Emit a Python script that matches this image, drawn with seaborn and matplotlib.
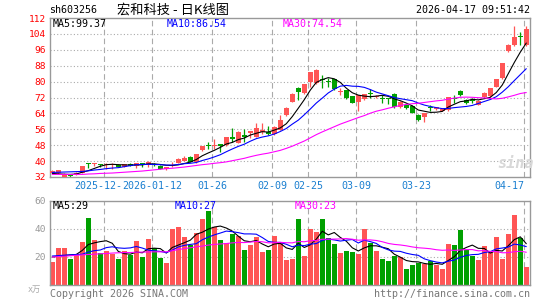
import matplotlib
matplotlib.use("Agg")
import numpy as np
import matplotlib.pyplot as plt
import seaborn as sns

sns.set_theme(style="white")
plt.rcParams['font.family'] = ['DejaVu Sans Mono', 'Noto Sans CJK SC']

W, H = 545, 300

# --- values (80 trading days) ---
tick_pos = [9, 17, 27, 37, 43, 51, 61, 79]
tick_labels = ['2025-12-29', '2026-01-12', '01-26', '02-09', '02-25', '03-09', '03-23', '04-17']

opens = [34.2, 33.8, 32.2, 33.3, 33.2, 34.2, 38.7, 38.5, 38.2, 38.2,
         38.1, 38.2, 37.2, 38.7, 37.7, 38.5, 38.0, 38.4, 37.7, 35.9,
         37.5, 39.2, 40.1, 42.2, 39.4, 45.6, 48.0, 47.7, 48.4, 48.1,
         52.0, 49.3, 53.1, 54.3, 52.3, 54.8, 54.8, 53.6, 55.7, 63.2,
         69.9, 77.0, 74.1, 80.0, 79.5, 81.2, 80.0, 81.2, 75.0, 75.8,
         72.8, 69.9, 71.1, 74.5, 72.3, 71.8, 71.5, 73.8, 67.1, 68.2,
         67.7, 63.2, 62.4, 67.2, 66.1, 65.4, 65.7, 71.4, 75.3, 70.8,
         70.5, 68.2, 72.1, 72.8, 77.5, 81.7, 95.6, 98.5, 103.0, 98.5]
highs = [35.3, 35.6, 33.8, 33.5, 34.4, 37.6, 39.2, 39.2, 38.7, 38.9,
         39.0, 38.4, 38.6, 38.9, 39.0, 39.2, 39.8, 39.0, 38.0, 37.0,
         39.7, 41.5, 42.5, 42.5, 43.8, 47.8, 49.8, 50.9, 48.6, 52.3,
         56.5, 55.0, 56.0, 55.3, 59.0, 59.0, 57.7, 57.5, 63.2, 67.0,
         74.1, 77.5, 79.0, 84.9, 86.2, 83.3, 81.7, 81.5, 76.6, 76.0,
         73.0, 73.5, 74.0, 76.1, 73.5, 73.3, 72.0, 74.3, 70.2, 68.5,
         68.0, 63.5, 64.4, 68.2, 67.4, 66.4, 72.4, 73.3, 75.6, 71.1,
         71.6, 70.6, 74.8, 77.0, 81.5, 89.5, 98.8, 108.0, 105.2, 108.0]
lows = [33.9, 33.6, 32.0, 32.2, 33.0, 34.0, 36.4, 37.7, 36.9, 35.9,
        36.0, 37.0, 37.0, 37.5, 36.4, 36.9, 37.0, 37.7, 36.0, 35.7,
        37.0, 39.0, 40.0, 39.5, 39.2, 45.3, 46.1, 45.9, 44.8, 47.8,
        49.8, 49.0, 49.8, 51.5, 52.0, 53.6, 53.1, 53.3, 55.5, 62.9,
        69.5, 70.8, 73.8, 77.5, 79.0, 77.0, 77.5, 75.8, 73.3, 71.3,
        69.0, 65.0, 70.8, 71.9, 72.0, 69.1, 68.6, 66.8, 66.5, 66.2,
        64.1, 60.4, 59.9, 65.4, 65.8, 65.0, 65.4, 69.1, 73.0, 68.6,
        69.1, 68.0, 71.8, 72.5, 77.2, 81.4, 95.0, 98.0, 98.5, 98.0]
closes = [35.0, 35.5, 33.3, 32.5, 34.2, 37.5, 38.4, 38.7, 38.0, 38.4,
          38.5, 37.2, 38.4, 37.7, 38.9, 38.3, 39.7, 38.2, 36.2, 36.9,
          38.0, 41.1, 41.7, 39.7, 43.6, 47.6, 47.7, 48.2, 47.6, 52.1,
          51.3, 54.8, 52.3, 55.0, 56.5, 55.5, 53.6, 57.3, 60.7, 66.7,
          73.8, 74.6, 78.8, 84.7, 85.9, 80.8, 79.6, 76.1, 75.5, 71.6,
          69.4, 73.3, 73.8, 74.0, 72.8, 71.4, 71.0, 67.1, 69.9, 66.6,
          64.4, 60.7, 64.1, 66.8, 67.1, 66.1, 72.1, 71.0, 73.3, 69.1,
          70.1, 70.3, 74.4, 76.6, 81.2, 89.2, 98.5, 102.6, 102.6, 106.3]

ma5 = [33.8, 33.6, 33.4, 33.3, 33.5, 34.4, 35.2, 36.3, 37.4, 38.2,
       38.4, 38.2, 38.1, 38.0, 38.1, 38.1, 38.6, 38.6, 38.3, 37.9,
       37.8, 38.1, 38.8, 39.5, 40.8, 42.7, 44.1, 45.4, 46.9, 48.6,
       49.4, 50.8, 51.6, 53.1, 54.0, 54.8, 54.6, 55.6, 56.7, 58.8,
       62.4, 66.6, 70.9, 75.7, 79.6, 81.0, 82.0, 81.4, 79.6, 76.7,
       74.4, 73.2, 72.7, 72.4, 72.7, 73.1, 72.6, 71.3, 70.4, 69.2,
       67.8, 65.7, 65.1, 64.5, 64.6, 65.0, 67.2, 68.6, 69.9, 70.3,
       71.1, 70.8, 71.4, 72.1, 74.5, 78.3, 84.0, 89.6, 94.8, 99.4]
ma10 = [34.3, 34.4, 34.5, 34.6, 34.7, 34.8, 35.1, 35.5, 35.8, 36.2,
        36.5, 36.7, 37.2, 37.7, 38.2, 38.3, 38.4, 38.3, 38.2, 38.0,
        38.0, 38.3, 38.7, 38.9, 39.3, 40.3, 41.1, 42.1, 43.2, 44.7,
        46.1, 47.4, 48.5, 50.0, 51.3, 52.1, 52.7, 53.6, 54.9, 56.4,
        58.6, 60.6, 63.3, 66.2, 69.2, 71.7, 74.3, 76.2, 77.7, 78.1,
        77.7, 77.6, 77.1, 76.0, 74.7, 73.8, 72.9, 72.0, 71.4, 70.9,
        70.4, 69.2, 68.2, 67.5, 66.9, 66.4, 66.5, 66.9, 67.2, 67.5,
        68.0, 69.0, 70.0, 71.0, 72.4, 74.7, 77.4, 80.5, 83.5, 86.5]
ma30 = [33.3, 33.3, 33.3, 33.3, 33.3, 33.3, 33.5, 33.6, 33.8, 33.9,
        34.0, 34.2, 34.4, 34.6, 34.8, 35.0, 35.3, 35.6, 35.9, 36.2,
        36.4, 36.7, 37.0, 37.4, 37.8, 38.2, 38.5, 38.9, 39.2, 39.6,
        40.2, 40.8, 41.4, 42.2, 42.9, 43.5, 44.0, 44.7, 45.4, 46.4,
        47.5, 48.8, 50.1, 51.7, 53.3, 54.7, 56.0, 57.3, 58.6, 59.7,
        60.8, 61.9, 62.9, 64.1, 65.1, 65.8, 66.6, 67.3, 68.0, 68.5,
        68.9, 69.1, 69.5, 69.9, 70.3, 70.6, 71.2, 71.7, 72.1, 72.2,
        72.1, 71.9, 71.8, 71.5, 71.3, 71.6, 72.3, 73.1, 74.0, 74.5]

volume = [16.3, 26.6, 26.6, 18.3, 21.2, 31.0, 47.6, 32.2, 22.9, 24.1,
          22.4, 18.3, 24.1, 21.2, 31.5, 19.8, 32.9, 26.3, 19.3, 15.6,
          39.8, 41.7, 34.4, 28.5, 36.8, 47.3, 52.7, 41.5, 32.2, 29.8,
          36.3, 34.9, 24.9, 28.8, 34.1, 23.7, 24.9, 35.1, 31.0, 17.6,
          18.3, 46.8, 20.5, 40.2, 37.6, 46.8, 33.7, 29.3, 22.7, 24.1,
          23.4, 22.0, 40.2, 30.2, 24.1, 18.3, 16.8, 20.5, 20.0, 11.7,
          14.6, 15.6, 14.9, 17.1, 14.6, 11.7, 29.3, 28.5, 39.5, 24.9,
          20.5, 17.6, 27.8, 23.4, 34.4, 18.3, 36.1, 49.8, 33.4, 13.2]
vol_ma5 = [20.0, 20.5, 21.0, 21.5, 21.8, 24.7, 28.9, 30.1, 31.0, 31.6,
           29.8, 24.0, 22.4, 22.0, 23.5, 23.0, 25.9, 26.3, 26.0, 22.8,
           26.8, 28.5, 30.2, 32.0, 36.2, 37.7, 39.9, 41.4, 42.1, 40.7,
           38.5, 34.9, 31.6, 30.9, 31.8, 29.3, 27.3, 29.3, 29.8, 26.5,
           25.4, 29.8, 26.8, 28.7, 32.7, 38.4, 35.8, 37.5, 34.0, 31.3,
           26.6, 24.3, 26.5, 28.0, 28.0, 27.0, 25.9, 22.0, 19.9, 17.5,
           16.7, 16.5, 15.4, 14.8, 15.4, 14.8, 17.5, 20.2, 24.7, 26.8,
           28.5, 26.2, 26.1, 22.8, 24.7, 24.3, 28.0, 32.4, 34.4, 29.5]
vol_ma10 = [20.7, 21.0, 21.3, 21.5, 21.8, 22.0, 23.5, 24.5, 25.0, 26.7,
            27.3, 26.5, 26.2, 26.5, 27.5, 26.4, 24.9, 24.4, 24.0, 23.1,
            24.9, 27.2, 28.3, 29.0, 29.5, 32.3, 34.2, 35.8, 37.1, 38.5,
            38.1, 37.4, 36.5, 36.5, 36.3, 33.9, 31.1, 30.5, 30.4, 29.1,
            27.3, 28.5, 28.1, 29.2, 29.6, 31.9, 32.8, 32.2, 31.4, 32.0,
            32.5, 30.0, 32.0, 31.0, 29.7, 26.8, 25.1, 24.2, 24.0, 22.7,
            21.8, 21.2, 18.7, 17.4, 16.4, 15.8, 17.0, 17.8, 19.8, 21.1,
            21.7, 21.9, 23.2, 23.8, 25.8, 26.4, 27.1, 29.2, 28.6, 27.4]
vol_ma30 = [20.0, 20.3, 20.6, 20.9, 21.2, 21.5, 21.8, 22.0, 22.3, 22.5,
            22.8, 23.0, 23.2, 23.2, 23.4, 23.5, 23.6, 23.7, 23.7, 23.7,
            24.5, 25.3, 26.0, 26.6, 27.3, 27.8, 28.5, 29.0, 29.3, 29.6,
            30.1, 30.4, 30.3, 30.7, 31.1, 30.9, 30.1, 30.2, 30.5, 30.2,
            30.1, 31.1, 30.9, 31.6, 31.8, 32.7, 32.7, 32.8, 32.9, 33.2,
            32.7, 32.0, 32.2, 32.2, 31.8, 30.9, 29.7, 29.0, 28.6, 28.0,
            27.2, 26.6, 26.3, 25.9, 25.2, 24.8, 25.0, 24.7, 25.0, 25.3,
            25.3, 24.4, 24.6, 24.0, 23.9, 23.0, 23.1, 23.8, 24.1, 23.4]

RED = '#ff5555'
GREEN = '#00a000'
GRID = '#aaaaaa'

fig = plt.figure(figsize=(W / 100, H / 100), dpi=100)
fig.patch.set_facecolor('white')

ax = fig.add_axes([50 / W, 1 - 177 / H, 480 / W, 159 / H])
axv = fig.add_axes([50 / W, 1 - 285 / H, 480 / W, 84 / H])

idx = np.arange(len(closes))
o = np.array(opens)
c = np.array(closes)
colors = np.where(c >= o, RED, GREEN)

# candles
ax.vlines(idx, lows, highs, colors=colors, lw=0.9, zorder=2)
ax.bar(idx, np.maximum(np.abs(c - o), 0.5), bottom=np.minimum(o, c),
       width=0.78, color=colors, lw=0, zorder=3)
sns.lineplot(x=idx, y=ma5, ax=ax, color='black', lw=0.8, zorder=4)
sns.lineplot(x=idx, y=ma10, ax=ax, color='#0000ff', lw=0.8, zorder=4)
sns.lineplot(x=idx, y=ma30, ax=ax, color='#ff00ff', lw=0.8, zorder=4)

# volume
axv.bar(idx, volume, width=0.78, color=colors, lw=0, zorder=2)
sns.lineplot(x=idx, y=vol_ma5, ax=axv, color='black', lw=0.8, zorder=4)
sns.lineplot(x=idx, y=vol_ma10, ax=axv, color='#0000ff', lw=0.8, zorder=4)
sns.lineplot(x=idx, y=vol_ma30, ax=axv, color='#ff00ff', lw=0.8, zorder=4)

for a in (ax, axv):
    a.set_xlim(-0.38, 79.62)
    a.set_facecolor('white')
    a.grid(False)
    a.set_xlabel('')
    a.set_ylabel('')
    for s in a.spines.values():
        s.set_visible(True)
        s.set_color('#999999')
        s.set_linewidth(1)
    for p in tick_pos:
        a.axvline(p - 0.33, color=GRID, lw=0.8, ls=(0, (5, 3)), zorder=0)
    a.tick_params(length=0)

ax.set_ylim(32, 112)
for yv in range(40, 112, 8):
    ax.axhline(yv, color=GRID, lw=0.8, ls=(0, (1, 2)), zorder=0)
ax.set_yticks(range(32, 113, 8))
ax.set_yticklabels([str(v) for v in range(32, 113, 8)], color='red', fontsize=6.8)
ax.tick_params(axis='y', pad=3)

# date labels: the first one is partly covered by the second in the original,
# only "2025-12-" stays visible, so it sits right-aligned against it
xt = [p - 0.33 for p in tick_pos]
xt[0] += 3.0
shown = list(tick_labels)
shown[0] = tick_labels[0][:8]
ax.set_xticks(xt)
ax.set_xticklabels(shown, color='#1a7fd0', fontsize=7.2)
ax.tick_params(axis='x', pad=3)
xl = ax.get_xticklabels()
xl[0].set_horizontalalignment('right')
xl[-1].set_horizontalalignment('right')

axv.set_ylim(0, 60)
for yv in (20, 40):
    axv.axhline(yv, color=GRID, lw=0.8, ls=(0, (1, 2)), zorder=0)
axv.set_yticks([20, 40, 60])
axv.set_yticklabels(['20', '40', '60'], color='#999999', fontsize=6.8)
axv.tick_params(axis='y', pad=3)
axv.set_xticks([])


def t(x, y, s, **kw):
    fig.text(x / W, 1 - y / H, s, va='center', **kw)


t(49, 10, 'sh603256', fontsize=7.2, color='black')
t(117, 10, '宏和科技 - 日K线图', fontsize=9.5, color='black',
  family=['Noto Sans CJK SC', 'DejaVu Sans'])
t(530, 10, '2026-04-17 09:51:42', fontsize=7.2, color='black', ha='right')

t(53, 24, 'MA5:99.37', fontsize=7.2, color='black')
t(167, 24, 'MA10:86.54', fontsize=7.2, color='#0000ff')
t(283, 24, 'MA30:74.54', fontsize=7.2, color='#ff00ff')

t(53, 206, 'MA5:29', fontsize=7.2, color='black')
t(175, 206, 'MA10:27', fontsize=7.2, color='#0000ff')
t(295, 206, 'MA30:23', fontsize=7.2, color='#ff00ff')

t(28, 289, 'x万', fontsize=6, color='#aaaaaa')
t(50, 294, 'Copyright 2026 SINA.COM', fontsize=7.2, color='#777777')
t(530, 294, 'http://finance.sina.com.cn', fontsize=7.2, color='#777777', ha='right')
t(497, 163, 'sina', fontsize=11, color='#d8d8d8', style='italic', weight='bold')

fig.savefig('out.png', dpi=100, facecolor='white')
